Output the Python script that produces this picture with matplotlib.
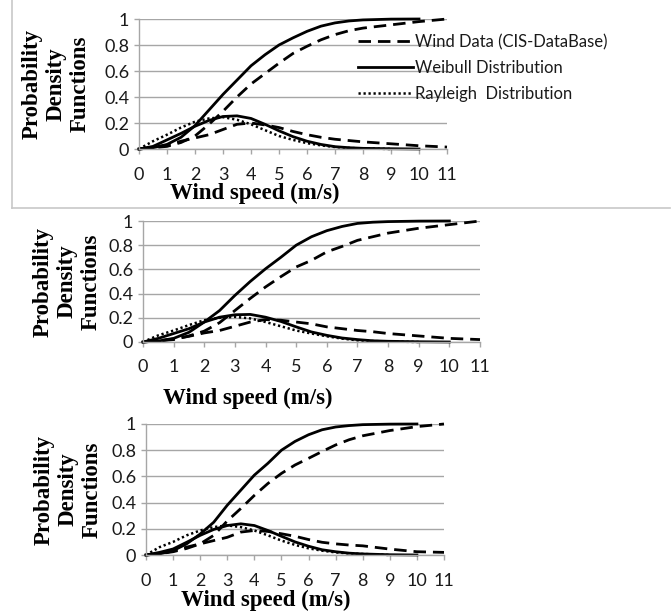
import matplotlib
matplotlib.use("Agg")
import matplotlib.pyplot as plt
from matplotlib.lines import Line2D
import numpy as np

# wind speed grid (m/s), half steps up to 8, then whole steps
x = [0, 0.5, 1, 1.5, 2, 2.5, 3, 3.5, 4, 4.5, 5, 5.5, 6, 6.5, 7, 7.5, 8, 9, 10, 11]
N = None

# --- panel 1 ---
p1_data_cdf = [0, 0.01, 0.02, 0.05, 0.10, 0.19, 0.29, 0.40, 0.50, 0.58, 0.66, 0.735, 0.79, 0.84, 0.88, 0.91, 0.93, 0.955, 0.98, 1.0]
p1_data_pdf = [0, 0.01, 0.03, 0.06, 0.085, 0.11, 0.15, 0.19, 0.20, 0.185, 0.165, 0.135, 0.11, 0.09, 0.075, 0.065, 0.055, 0.04, 0.025, 0.015]
p1_weib_cdf = [0, 0.01, 0.035, 0.09, 0.18, 0.30, 0.42, 0.53, 0.64, 0.725, 0.80, 0.855, 0.905, 0.945, 0.97, 0.985, 0.993, 0.999, 1.0, N]
p1_weib_pdf = [0, 0.02, 0.07, 0.12, 0.175, 0.22, 0.25, 0.255, 0.235, 0.19, 0.14, 0.095, 0.06, 0.035, 0.018, 0.01, 0.005, 0.002, 0.0, N]
p1_rayl_pdf = [0, 0.06, 0.11, 0.165, 0.21, 0.235, 0.245, 0.225, 0.19, 0.145, 0.10, 0.07, 0.045, 0.028, 0.015, 0.008, 0.004, 0.0, N, N]

# --- panel 2 ---
p2_data_cdf = [0, 0.01, 0.02, 0.05, 0.09, 0.16, 0.26, 0.36, 0.455, 0.54, 0.62, 0.675, 0.745, 0.79, 0.84, 0.87, 0.90, 0.94, 0.97, 1.0]
p2_data_pdf = [0, 0.01, 0.025, 0.047, 0.075, 0.095, 0.13, 0.165, 0.185, 0.18, 0.165, 0.15, 0.125, 0.11, 0.095, 0.085, 0.07, 0.05, 0.03, 0.02]
p2_weib_cdf = [0, 0.008, 0.03, 0.08, 0.165, 0.26, 0.385, 0.50, 0.605, 0.70, 0.80, 0.87, 0.92, 0.955, 0.98, 0.99, 0.995, 0.999, 1.0, N]
p2_weib_pdf = [0, 0.03, 0.07, 0.11, 0.165, 0.205, 0.225, 0.228, 0.205, 0.17, 0.125, 0.083, 0.055, 0.033, 0.02, 0.01, 0.006, 0.002, 0.0, N]
p2_rayl_pdf = [0, 0.055, 0.095, 0.14, 0.18, 0.20, 0.208, 0.195, 0.165, 0.13, 0.095, 0.07, 0.047, 0.028, 0.014, 0.008, 0.004, 0.0, N, N]

# --- panel 3 ---
p3_data_cdf = [0, 0.01, 0.025, 0.05, 0.085, 0.15, 0.26, 0.355, 0.455, 0.546, 0.623, 0.687, 0.738, 0.79, 0.84, 0.88, 0.91, 0.95, 0.98, 1.0]
p3_data_pdf = [0, 0.01, 0.03, 0.06, 0.085, 0.11, 0.135, 0.175, 0.187, 0.18, 0.162, 0.143, 0.118, 0.097, 0.085, 0.076, 0.07, 0.045, 0.025, 0.02]
p3_weib_cdf = [0, 0.008, 0.033, 0.085, 0.16, 0.25, 0.38, 0.495, 0.61, 0.70, 0.80, 0.867, 0.918, 0.956, 0.977, 0.988, 0.995, 0.999, 1.0, N]
p3_weib_pdf = [0, 0.02, 0.046, 0.097, 0.15, 0.195, 0.225, 0.238, 0.225, 0.187, 0.143, 0.10, 0.067, 0.04, 0.025, 0.014, 0.008, 0.002, 0.0, N]
p3_rayl_pdf = [0, 0.06, 0.10, 0.15, 0.187, 0.213, 0.226, 0.213, 0.187, 0.15, 0.11, 0.077, 0.051, 0.033, 0.02, 0.012, 0.008, 0.0, N, N]

panels = [
    (p1_data_cdf, p1_data_pdf, p1_weib_cdf, p1_weib_pdf, p1_rayl_pdf),
    (p2_data_cdf, p2_data_pdf, p2_weib_cdf, p2_weib_pdf, p2_rayl_pdf),
    (p3_data_cdf, p3_data_pdf, p3_weib_cdf, p3_weib_pdf, p3_rayl_pdf),
]

xticks = list(range(0, 12))
yticks = [0, 0.2, 0.4, 0.6, 0.8, 1]
ytick_labels = ['0', '0.2', '0.4', '0.6', '0.8', '1']
legend_labels = ['Wind Data (CIS-DataBase)', 'Weibull Distribution', 'Rayleigh  Distribution']

W, H = 672, 611
# axes boxes in pixels: left, right, top, bottom
boxes = [(139, 447, 19, 149), (143, 480, 221, 342), (146, 444, 424, 555)]
ylab_x = [56, 67, 68]
xlab_pos = [(255, 193), (248, 398), (266, 600)]

tick_font = 'Lato'
serif = 'Liberation Serif'
grid_c = '#a6a6a6'

fig = plt.figure(figsize=(W / 100, H / 100), dpi=100)

def f(v):
    return np.array([np.nan if a is None else a for a in v], dtype=float)

for i, (box, series) in enumerate(zip(boxes, panels)):
    l, r, t, b = box
    ax = fig.add_axes([l / W, 1 - b / H, (r - l) / W, (b - t) / H])
    d_cdf, d_pdf, w_cdf, w_pdf, r_pdf = series
    xs = np.array(x, dtype=float)
    dash = dict(color='black', lw=2.0, dashes=(4.5, 2.5), clip_on=False)
    solid = dict(color='black', lw=2.0, clip_on=False)
    dot = dict(color='black', lw=1.8, dashes=(0.9, 1.1), clip_on=False)
    h1, = ax.plot(xs, f(d_cdf), **dash)
    ax.plot(xs, f(d_pdf), **dash)
    h2, = ax.plot(xs, f(w_cdf), **solid)
    ax.plot(xs, f(w_pdf), **solid)
    h3, = ax.plot(xs, f(r_pdf), **dot)

    ax.set_xlim(0, 11)
    ax.set_ylim(0, 1)
    ax.set_xticks(xticks)
    ax.set_xticklabels([str(v) for v in xticks])
    ax.set_yticks(yticks)
    ax.set_yticklabels(ytick_labels)
    ax.grid(axis='y', color=grid_c, lw=1.0)
    ax.set_axisbelow(True)
    for s in ['top', 'right']:
        ax.spines[s].set_visible(False)
    for s in ['left', 'bottom']:
        ax.spines[s].set_color(grid_c)
        ax.spines[s].set_linewidth(1.0)
    ax.tick_params(axis='both', direction='out', length=3.6, width=1.0, color=grid_c,
                   labelsize=13, labelcolor='#1a1a1a')
    ax.tick_params(axis='x', pad=9)
    ax.tick_params(axis='y', pad=3.5)
    for lab in ax.get_xticklabels() + ax.get_yticklabels():
        lab.set_fontfamily(tick_font)

    cy = 1 - (t + b) / 2 / H
    fig.text(ylab_x[i] / W, cy, 'Probability\nDensity\nFunctions', rotation=90,
             ha='center', va='center', multialignment='center',
             fontfamily=serif, fontweight='bold', fontsize=16.5, linespacing=1.2)
    xl, yl = xlab_pos[i]
    fig.text(xl / W, 1 - yl / H, 'Wind speed (m/s)', ha='center', va='center',
             fontfamily=serif, fontweight='bold', fontsize=16.5)

    if i == 0:
        leg = ax.legend([h1, h2, h3], legend_labels, loc='upper left',
                        bbox_to_anchor=((358 - l) / (r - l), (b - 34) / (b - t)),
                        frameon=False, handlelength=3.3, handletextpad=0.1,
                        labelspacing=0.6, borderpad=0, borderaxespad=0,
                        prop={'family': tick_font, 'size': 12})
        for txt in leg.get_texts():
            txt.set_color('#1a1a1a')

# light frame around the first panel
fig.add_artist(Line2D([12 / W, 12 / W], [1, 1 - 208 / H], color='#c8c8c8', lw=1.2))
fig.add_artist(Line2D([12 / W, 670 / W], [1 - 208 / H, 1 - 208 / H], color='#c8c8c8', lw=1.2))

fig.savefig('out.png', dpi=100)
